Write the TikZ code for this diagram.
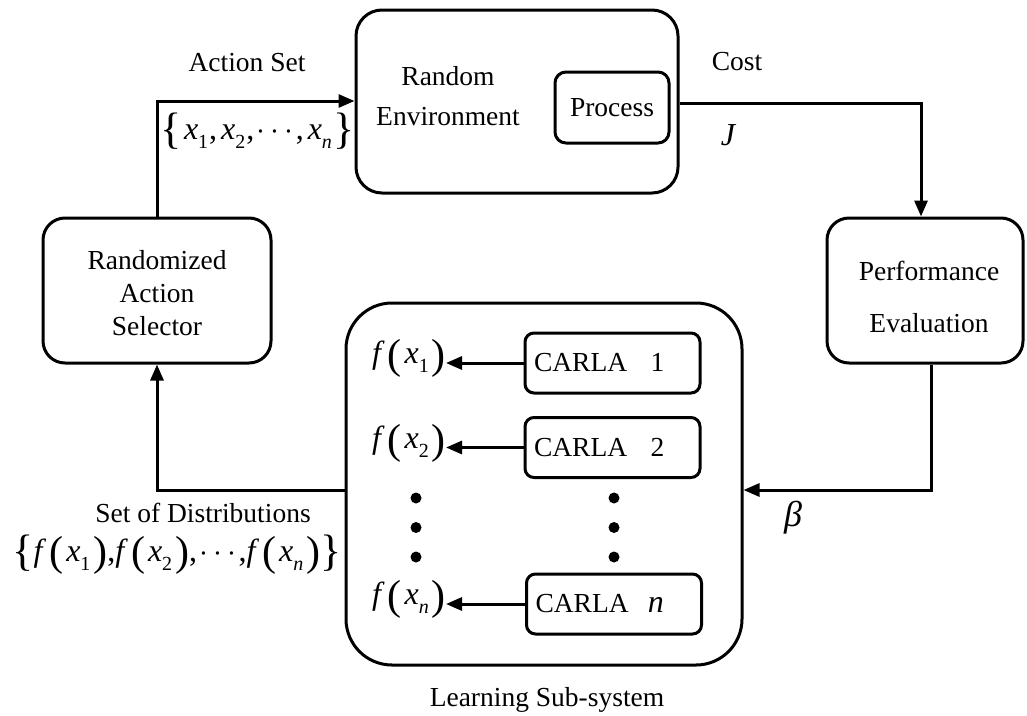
\RequirePackage{fix-cm}
\documentclass[tikz,border=0pt]{standalone}
\usepackage{fontspec}
\setmainfont{Liberation Serif}
\usetikzlibrary{arrows.meta}
\newcommand\sbx[1]{\raisebox{-0.28em}{\fontsize{20}{20}\selectfont #1}}
\newcommand\bigp[1]{\raisebox{-0.13em}{\fontsize{42}{42}\selectfont #1}}
\newcommand\bigb[1]{\raisebox{-0.12em}{\fontsize{44}{44}\selectfont #1}}
\newcommand\fx[1]{\textit{f}\kern3pt\bigp{(}\kern3pt\textit{x}\sbx{#1}\kern3pt\bigp{)}}
\newcommand\cdt{\kern2pt$\cdots$\kern2pt}
\tikzset{
  rbox/.style={draw, line width=3pt, inner sep=0pt, rounded corners=#1},
  conn/.style={line width=3pt, -{Triangle[length=16pt,width=13pt]}},
  txt/.style={font=\fontsize{27.5}{33}\selectfont, inner sep=0pt, align=center},
  mth/.style={font=\fontsize{32}{36}\selectfont, inner sep=0pt},
  carla/.style={draw, line width=3pt, rounded corners=9pt, inner xsep=9pt, inner ysep=0pt,
     text width=157pt, minimum height=60pt, align=left, font=\fontsize{27.5}{33}\selectfont},
  dot/.style={circle, fill, inner sep=0pt, minimum size=11pt}
}
\begin{document}
\begin{tikzpicture}[x=1pt,y=-1pt]
\useasboundingbox (0,0) rectangle (1027,715);
% boxes
\node[rbox=26pt, minimum width=322pt, minimum height=183pt] (env) at (517,101.5) {};
\node[rbox=11pt, minimum width=114pt, minimum height=71pt, font=\fontsize{27.5}{33}\selectfont] (proc) at (612,107.5) {Process};
\node[txt, font=\fontsize{27.5}{40}\selectfont] (envt) at (448,96) {Random\\Environment};
\node[rbox=22pt, minimum width=228pt, minimum height=145pt] (ras) at (157,290.5) {};
\node[txt] (rast) at (157,293) {Randomized\\Action\\Selector};
\node[rbox=22pt, minimum width=196pt, minimum height=145pt] (perf) at (925,290.5) {};
\node[txt, font=\fontsize{27.5}{52}\selectfont] (perft) at (929,297) {Performance\\Evaluation};
\node[rbox=46pt, minimum width=396pt, minimum height=362pt] (learn) at (544,484) {};
\node[txt] (learnt) at (547,700) {Learning Sub-system};
% CARLA boxes
\node[carla] (c1) at (612.5,363) {CARLA\hspace{0.85em}1};
\node[carla] (c2) at (612.5,447.5) {CARLA\hspace{0.85em}2};
\node[carla] (cn) at (614,604) {CARLA\hspace{0.7em}{\fontsize{32}{32}\selectfont\itshape n}};
% f labels
\node[mth, anchor=east] (f1) at (446,358) {\fx{1}};
\node[mth, anchor=east] (f2) at (446,443) {\fx{2}};
\node[mth, anchor=east] (fn) at (446,599) {\fx{\itshape n}};
\draw[conn] (c1.west) -- (c1.west -| f1.east) coordinate (a1);
\draw[conn] (c2.west) -- (c2.west -| f2.east) coordinate (a2);
\draw[conn] (cn.west) -- (cn.west -| fn.east) coordinate (an);
% dots
\node[dot] (dl1) at (416,498) {};
\node[dot] (dl2) at (416,527.5) {};
\node[dot] (dl3) at (416,557) {};
\node[dot] (dr1) at (614,498) {};
\node[dot] (dr2) at (614,527.5) {};
\node[dot] (dr3) at (614,557) {};
% connectors
\coordinate (k1) at (157,101);
\draw[conn] (ras.north) -- (k1) -- (k1 -| env.west);
\coordinate (k2) at (921,103);
\draw[conn] (k2 -| env.east) -- (k2) -- (k2 |- perf.north);
\coordinate (k3) at (931,490);
\draw[conn] (k3 |- perf.south) -- (k3) -- (k3 -| learn.east);
\coordinate (k4) at (157,490);
\draw[conn] (k4 -| learn.west) -- (k4) -- (ras.south);
% labels
\node[txt] (las) at (247,63) {Action Set};
\node[mth] (lx) at (258,131) {\bigb{\{}\kern2pt\textit{x}\sbx{1}\kern1pt,\kern4pt\textit{x}\sbx{2}\kern1pt,\cdt,\kern4pt\textit{x}\sbx{\itshape n}\kern2pt\bigb{\}}};
\node[txt] (lcost) at (737,62) {Cost};
\node[mth] (lj) at (728,135) {\itshape J};
\node[mth, font=\fontsize{36}{36}\selectfont] (lb) at (793,518) {\itshape β};
\node[txt] (lsd) at (203,513) {Set of Distributions};
\node[mth] (lfs) at (177,555) {\bigb{\{}\fx{1},\fx{2},\cdt,\fx{\itshape n}\bigb{\}}};
\end{tikzpicture}
\end{document}
